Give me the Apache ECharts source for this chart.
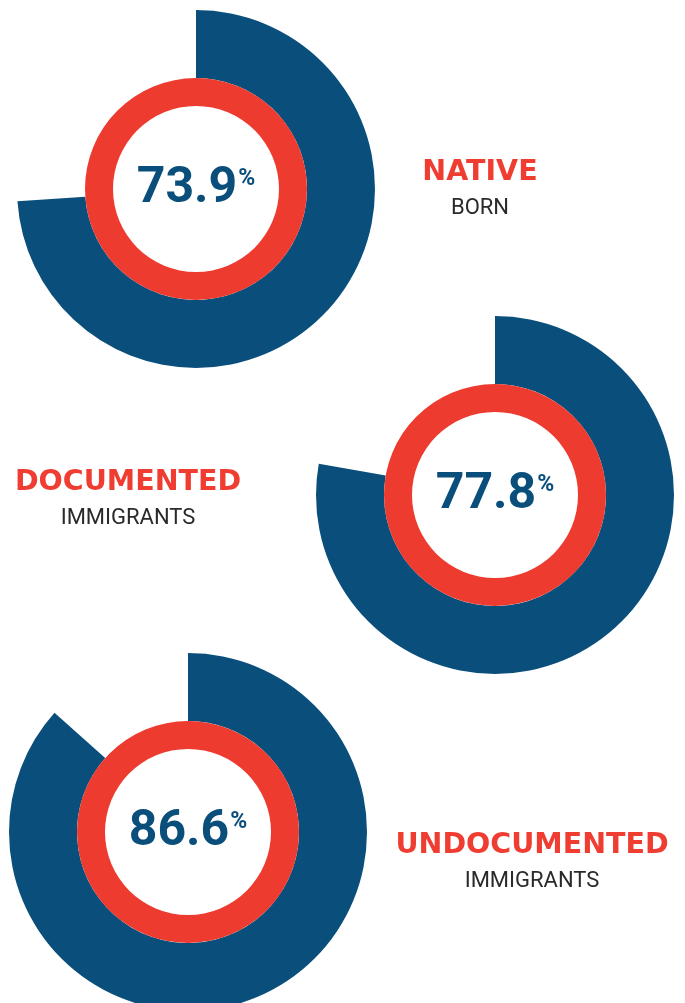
<!DOCTYPE html>
<html>
<head>
<meta charset="utf-8">
<script src="https://cdn.jsdelivr.net/npm/echarts@6/dist/echarts.min.js"></script>
<style>
  html, body { margin: 0; padding: 0; background: #ffffff; }
  #chart { width: 685px; height: 1003px; }
</style>
</head>
<body>
<div id="chart"></div>
<script>
// ---- data ----
const categories = ['NATIVE', 'DOCUMENTED', 'UNDOCUMENTED'];
const subLabels = ['BORN', 'IMMIGRANTS', 'IMMIGRANTS'];
const shares = [73.9, 77.8, 86.6];

// ---- layout / style ----
const BLUE = '#0a4f7c';
const RED = '#ee3b2f';
const centers = [[196, 189], [495, 495], [188, 832]];
const labelPos = [[480, 173], [128, 483], [532, 846]];

const series = [];
shares.forEach(function (v, i) {
  series.push({
    type: 'pie',
    silent: true,
    center: centers[i],
    radius: [111, 179],
    startAngle: 90,
    clockwise: true,
    animation: false,
    label: { show: false },
    labelLine: { show: false },
    emphasis: { disabled: true },
    data: [
      { value: v, name: categories[i], itemStyle: { color: BLUE } },
      { value: 100 - v, name: 'rest', itemStyle: { color: 'rgba(0,0,0,0)' } }
    ]
  });
  series.push({
    type: 'pie',
    silent: true,
    center: centers[i],
    radius: [83, 111],
    animation: false,
    labelLine: { show: false },
    emphasis: { disabled: true },
    label: {
      show: true,
      position: 'center',
      formatter: function () { return '{v|' + v.toFixed(1) + '}{p|%}'; },
      rich: {
        v: { fontFamily: 'Roboto', fontWeight: 'bold', fontSize: 50, lineHeight: 50, color: BLUE },
        p: { fontFamily: 'Roboto', fontWeight: 'bold', fontSize: 23, lineHeight: 23, color: BLUE,
             verticalAlign: 'top', padding: [4, 0, 0, 1] }
      }
    },
    data: [{ value: 1, name: categories[i] + ' ring', itemStyle: { color: RED } }]
  });
});

const graphics = [];
categories.forEach(function (c, i) {
  graphics.push({
    type: 'text', silent: true,
    style: { text: c, x: labelPos[i][0], y: labelPos[i][1], align: 'center', verticalAlign: 'middle',
             font: 'bold 28.5px "DejaVu Sans"', fill: '#ef3d32' }
  });
  graphics.push({
    type: 'text', silent: true,
    style: { text: subLabels[i], x: labelPos[i][0], y: labelPos[i][1] + 35,
             align: 'center', verticalAlign: 'middle',
             font: '22px Roboto', fill: '#2a2a2a' }
  });
});

const chart = echarts.init(document.getElementById('chart'), null, { renderer: 'canvas' });
chart.setOption({
  backgroundColor: '#ffffff',
  animation: false,
  tooltip: { show: false },
  series: series,
  graphic: graphics
});
</script>
</body>
</html>
